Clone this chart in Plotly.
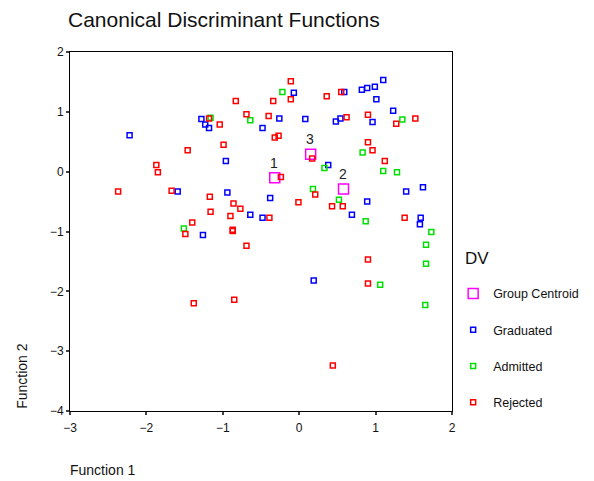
import plotly.graph_objects as go

# Graduated (blue)
grad_x = [-2.22, -1.28, -1.23, -1.18, -0.96, -0.07, -0.26, -0.48, 0.08, 0.59, 0.82, 0.89, 0.99, 1.10,
          1.01, 1.23, 0.96, 0.48, 0.54, 0.38, -1.59, -0.94, -0.64, -0.48, -1.26, -0.38, 0.89, 0.69,
          1.40, 1.62, 1.59, 1.58, 0.19]
grad_y = [0.61, 0.88, 0.79, 0.73, 0.18, 1.32, 0.89, 0.73, 0.88, 1.33, 1.37, 1.40, 1.42, 1.53,
          1.21, 1.02, 0.83, 0.84, 0.89, 0.11, -0.33, -0.35, -0.72, -0.77, -1.06, -0.44, -0.50, -0.72,
          -0.33, -0.26, -0.77, -0.88, -1.82]

# Admitted (green)
adm_x = [-0.64, -1.16, -0.22, 1.35, 0.83, 1.10, 1.28, 0.33, -1.51, 0.18, 0.52, 0.87, 1.73, 1.66,
         1.66, 1.06, 1.65]
adm_y = [0.86, 0.90, 1.33, 0.87, 0.32, 0.01, -0.01, 0.06, -0.95, -0.29, -0.47, -0.83, -1.01, -1.22,
         -1.54, -1.89, -2.23]

# Rejected (red)
rej_x = [-0.83, -0.69, -1.18, -1.04, -0.99, -1.46, -1.87, -1.85, -0.11, -0.34, -0.11, -0.40, -0.32,
         -0.27, 0.36, 0.55, 0.90, 1.27, 1.52, 0.62, 0.90, 0.96, 1.12, 0.17, -0.24, -2.37, -1.67,
         -1.17, -0.86, -0.77, -1.16, -0.90, -1.40, -1.49, -0.87, -0.87, -0.69, -1.38, -0.85,
         0.21, -0.01, 0.43, 0.57, -0.39, 1.38, 0.90, 0.90, 0.44]
rej_y = [1.18, 0.96, 0.89, 0.79, 0.45, 0.36, 0.11, -0.01, 1.51, 1.18, 1.21, 0.93, 0.57,
         0.60, 1.26, 1.33, 0.95, 0.80, 0.89, 0.91, 0.49, 0.36, 0.18, 0.22, -0.09, -0.33, -0.32,
         -0.42, -0.53, -0.62, -0.67, -0.74, -0.85, -1.04, -0.97, -0.99, -1.24, -2.20, -2.14,
         -0.38, -0.51, -0.58, -0.58, -0.77, -0.77, -1.47, -1.87, -3.24]

# Group centroids
cen_labels = ["1", "2", "3"]
cen_x = [-0.32, 0.58, 0.15]
cen_y = [-0.10, -0.29, 0.29]

x_ticks = [-3, -2, -1, 0, 1, 2]
y_ticks = [-4, -3, -2, -1, 0, 1, 2]

# The page places the figure 8px from the top-left corner, so the figure is
# sized to fill the remaining window.
W, H = 586, 473

fig = go.Figure()

def pts(x, y, color, name, size=5):
    return go.Scatter(x=x, y=y, mode="markers", name=name, legendgroup=name,
                      marker=dict(symbol="square-open", size=size, color=color,
                                  line=dict(width=1.5, color=color)),
                      cliponaxis=False)

fig.add_trace(pts(cen_x, cen_y, "#FF00FF", "Group Centroid", size=10))
fig.add_trace(pts(grad_x, grad_y, "#0000FF", "Graduated"))
fig.add_trace(pts(adm_x, adm_y, "#00E000", "Admitted"))
fig.add_trace(pts(rej_x, rej_y, "#FF0000", "Rejected"))

for lbl, x, y in zip(cen_labels, cen_x, cen_y):
    fig.add_annotation(x=x, y=y, text=lbl, showarrow=False, yshift=15, xshift=-1,
                       font=dict(size=14, color="#222"))

fig.update_layout(
    width=W, height=H,
    margin=dict(l=62, r=142, t=44, b=70, autoexpand=False),
    paper_bgcolor="white", plot_bgcolor="white",
    font=dict(family="Liberation Sans, Arial, sans-serif", color="#111", size=12),
    title=dict(text="Canonical Discriminant Functions", x=60/W, xanchor="left",
               y=1 - 12/H, yanchor="middle", font=dict(size=21, color="#111")),
    showlegend=True,
    legend=dict(x=1.003, xanchor="left", y=0.368, yanchor="top",
                font=dict(size=12.5), traceorder="grouped", tracegroupgap=17,
                itemsizing="trace", bgcolor="rgba(0,0,0,0)"),
    xaxis=dict(range=[-3, 2], tickvals=x_ticks, ticks="outside", ticklen=3, tickwidth=2,
               showline=True, linecolor="black", linewidth=1, mirror=True, automargin=False,
               showgrid=False, zeroline=False, tickfont=dict(size=12), ticklabelstandoff=3),
    yaxis=dict(range=[-4, 2], tickvals=y_ticks, ticks="outside", ticklen=3, tickwidth=2,
               showline=True, linecolor="black", linewidth=1, mirror=True, automargin=False,
               showgrid=False, zeroline=False, tickfont=dict(size=12)),
)

fig.add_annotation(text="DV", xref="paper", yref="paper", x=1.03, y=(403 - 250) / 359,
                   xanchor="left", yanchor="middle", showarrow=False, font=dict(size=17))
fig.add_annotation(text="Function 1", xref="paper", yref="paper", x=-0.005, y=-0.165,
                   xanchor="left", yanchor="middle", showarrow=False, font=dict(size=14))
fig.add_annotation(text="Function 2", xref="paper", yref="paper", x=-0.126, y=0,
                   xanchor="center", yanchor="bottom", textangle=-90, showarrow=False,
                   font=dict(size=14))

fig.write_html("out.html")
